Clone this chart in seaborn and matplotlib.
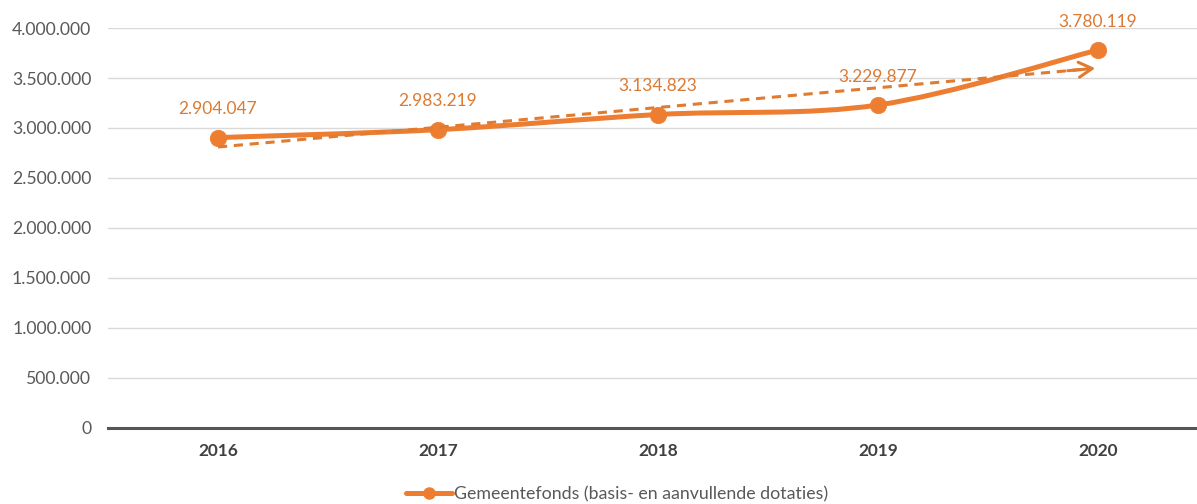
import numpy as np
import pandas as pd
import matplotlib
matplotlib.use("Agg")
import matplotlib.pyplot as plt
from matplotlib.path import Path
from matplotlib.patches import PathPatch
from matplotlib.lines import Line2D
from matplotlib.ticker import FuncFormatter
import seaborn as sns

# ---- data ----
years = ["2016", "2017", "2018", "2019", "2020"]
values = [2904047, 2983219, 3134823, 3229877, 3780119]
trend_start = 2810000
trend_end = 3600000
series_name = "Gemeentefonds (basis- en aanvullende dotaties)"
y_ticks = [0, 500000, 1000000, 1500000, 2000000, 2500000, 3000000, 3500000, 4000000]

sns.set_theme(style="white")
plt.rcParams['font.family'] = ['Lato', 'DejaVu Sans']

ORANGE = "#ED7D31"
LABEL = "#DD7A32"

df = pd.DataFrame({"x": np.arange(len(years)), "year": years, "value": values})

W, H = 1197, 504
fig = plt.figure(figsize=(W / 100, H / 100), dpi=100)
ax = fig.add_axes([108 / W, 76 / H, 1100 / W, 400 / H])

ax.set_xlim(-0.5, len(years) - 0.5)
ax.set_ylim(0, 4000000)

# smoothed line (Bezier through the data points)
xs = df["x"].to_numpy(dtype=float)
ys = df["value"].to_numpy(dtype=float)
pts = np.column_stack([xs, ys])
ext = np.vstack([pts[0], pts, pts[-1]])
verts = [tuple(pts[0])]
codes = [Path.MOVETO]
for i in range(len(pts) - 1):
    p0, p1, p2, p3 = ext[i], ext[i + 1], ext[i + 2], ext[i + 3]
    c1 = p1 + (p2 - p0) / 6.0
    c2 = p2 - (p3 - p1) / 6.0
    verts += [tuple(c1), tuple(c2), tuple(p2)]
    codes += [Path.CURVE4] * 3
ax.add_patch(PathPatch(Path(verts, codes), fill=False, edgecolor=ORANGE,
                       lw=3.6, capstyle="round", joinstyle="round", zorder=3))

sns.scatterplot(data=df, x="x", y="value", ax=ax, color=ORANGE, s=140,
                edgecolor=ORANGE, linewidth=0.5, zorder=4, legend=False)

# trend arrow
x0, x1 = xs[0], xs[-1]
slope = (trend_end - trend_start) / (x1 - x0)
ax.plot([x0, x1 - 0.03], [trend_start, trend_end - slope * 0.03],
        ls=(0, (3, 2.2)), lw=2.2, color="#E07B30", zorder=5)
ax.annotate("", xy=(x1, trend_end), xytext=(x1 - 0.15, trend_end - slope * 0.15),
            arrowprops=dict(arrowstyle="->,head_length=0.8,head_width=0.45", color="#E07B30", lw=2.2),
            zorder=5)

# data labels
for xi, v in zip(xs, values):
    ax.annotate(f"{v:,}".replace(",", "."), xy=(xi, v), xytext=(0, 20.5),
                textcoords="offset points", ha="center", va="center",
                fontsize=12.5, color=LABEL, zorder=6)

# axes styling
ax.set_yticks(y_ticks)
ax.yaxis.set_major_formatter(FuncFormatter(lambda v, p: f"{int(v):,}".replace(",", ".")))
ax.grid(axis="y", color="#D9D9D9", lw=1.0)
ax.set_axisbelow(True)
for s in ["top", "right", "left"]:
    ax.spines[s].set_visible(False)
ax.spines["bottom"].set_color("#555555")
ax.spines["bottom"].set_linewidth(2.2)

ax.set_xticks(xs)
ax.set_xticklabels(years, fontweight="bold", fontsize=12.4, color="#404040")
ax.tick_params(axis="x", length=0, pad=11)
ax.set_xticks(np.arange(len(years) + 1) - 0.5, minor=True)
ax.tick_params(axis="x", which="minor", length=5, width=1.5, color="#555555", direction="out")
ax.tick_params(axis="y", length=0, labelsize=12.7, labelcolor="#595959", pad=12)
ax.set_xlabel("")
ax.set_ylabel("")

handle = Line2D([0], [0], color=ORANGE, lw=3.6, marker="o", markersize=8)
fig.legend([handle], [series_name], loc="center", bbox_to_anchor=(617 / W, 1 - 494 / H),
           frameon=False, fontsize=12.8, labelcolor="#595959", handlelength=2.6, handletextpad=0.1)

fig.savefig("out.png", dpi=100)
